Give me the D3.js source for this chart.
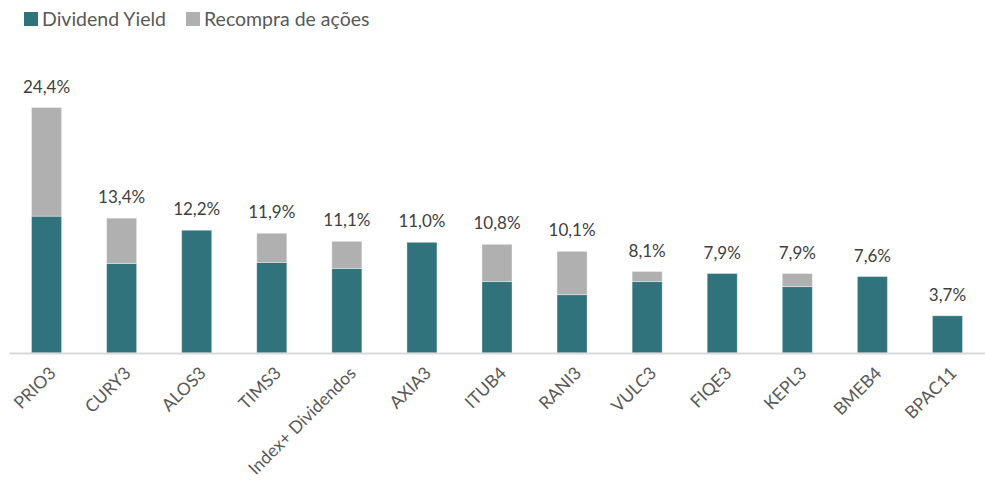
<!DOCTYPE html>
<html>
<head>
<meta charset="utf-8">
<script src="https://cdn.jsdelivr.net/npm/d3@7"></script>
<style>
  body { margin: 0; background: #fff; }
  svg { display: block; font-family: Lato, "Noto Sans", sans-serif; }
  .legend-text { fill: #595959; font-size: 19.5px; }
  .value-label { fill: #404040; font-size: 17px; }
  .x-axis text { fill: #595959; font-size: 17.5px; font-family: Lato, "Noto Sans", sans-serif; }
</style>
</head>
<body>
<svg id="chart"></svg>
<script>
const tickers = ['PRIO3', 'CURY3', 'ALOS3', 'TIMS3', 'Index+ Dividendos', 'AXIA3', 'ITUB4', 'RANI3', 'VULC3', 'FIQE3', 'KEPL3', 'BMEB4', 'BPAC11']
const dividendYield = [13.6, 8.9, 12.2, 9.0, 8.4, 11.0, 7.1, 5.8, 7.1, 7.9, 6.6, 7.6, 3.7]
const buyback = [10.8, 4.5, 0, 2.9, 2.7, 0, 3.7, 4.3, 1.0, 0, 1.3, 0, 0]
const totalLabels = ['24,4%', '13,4%', '12,2%', '11,9%', '11,1%', '11,0%', '10,8%', '10,1%', '8,1%', '7,9%', '7,9%', '7,6%', '3,7%']
const seriesNames = ['Dividend Yield', 'Recompra de ações']
const COLORS = ['#31737d', '#b0b0b0']

const width = 985, height = 480
const MARGIN = { top: 0, right: 0, bottom: 127, left: 9 }
const boundedWidth = width - MARGIN.left - MARGIN.right
const baseline = height - MARGIN.bottom

const $svg = d3.select('#chart').attr('width', width).attr('height', height)

const dataset = tickers.map((t, i) => ({ ticker: t, dy: dividendYield[i], bb: buyback[i], label: totalLabels[i] }))

const xScale = d3.scaleBand()
  .domain(tickers)
  .range([MARGIN.left, MARGIN.left + boundedWidth])
  .paddingInner(0.6)
  .paddingOuter(0.3)

// 24.4% sits at y≈107
const yScale = d3.scaleLinear()
  .domain([0, 24.4])
  .range([baseline, 107.5])

const stack = d3.stack().keys(['dy', 'bb'])(dataset)

const $gBars = $svg.append('g').attr('class', 'bars')
$gBars.selectAll('g')
  .data(stack)
  .enter()
  .append('g')
  .attr('fill', (d, i) => COLORS[i])
  .selectAll('rect')
  .data(d => d.filter(s => s[1] - s[0] > 0))
  .enter()
  .append('rect')
  .attr('x', d => xScale(d.data.ticker))
  .attr('y', d => yScale(d[1]))
  .attr('width', xScale.bandwidth())
  .attr('height', d => yScale(d[0]) - yScale(d[1]))
  .attr('stroke', 'rgba(255,255,255,0.35)')
  .attr('stroke-width', 1)

// axis line
const $xAxis = $svg.append('g')
  .attr('class', 'axis x-axis')
  .attr('transform', `translate(0, ${baseline})`)
  .call(d3.axisBottom(xScale).tickSize(0).tickPadding(0))

$xAxis.attr('font-family', null).attr('font-size', null)
$xAxis.select('.domain').attr('stroke', '#d9d9d9').attr('stroke-width', 2)

$xAxis.selectAll('text')
  .attr('text-anchor', 'end')
  .attr('dy', '0.35em')
  .attr('transform', `translate(6, 17) rotate(-45)`)
  .attr('x', 0)
  .attr('y', 0)

// value labels
$svg.append('g')
  .selectAll('text')
  .data(dataset)
  .enter()
  .append('text')
  .attr('class', 'value-label')
  .attr('text-anchor', 'middle')
  .attr('x', d => xScale(d.ticker) + xScale.bandwidth() / 2)
  .attr('y', d => yScale(d.dy + d.bb) - 15)
  .text(d => d.label)

// legend
const $gLegend = $svg.append('g').attr('class', 'legend')
const legendX = [24, 186]
seriesNames.forEach((name, i) => {
  $gLegend.append('rect')
    .attr('x', legendX[i])
    .attr('y', 12)
    .attr('width', 14)
    .attr('height', 14)
    .attr('fill', COLORS[i])
  $gLegend.append('text')
    .attr('class', 'legend-text')
    .attr('x', legendX[i] + 18)
    .attr('y', 26)
    .text(name)
})
</script>
</body>
</html>
